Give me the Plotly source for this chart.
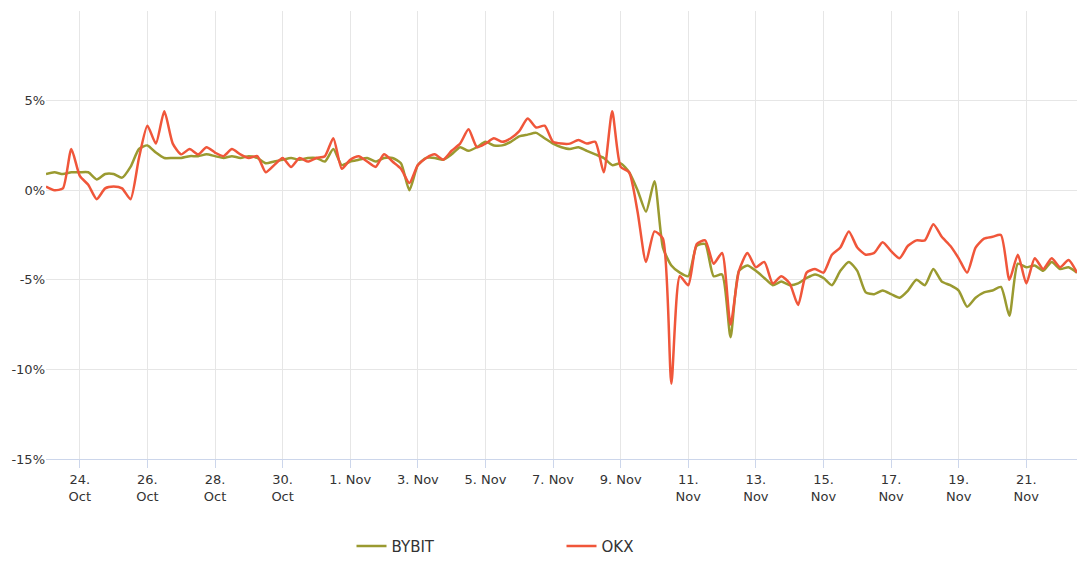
import datetime as dt
import plotly.graph_objects as go

start = dt.datetime(2023, 10, 23)
step_hours = 6

bybit = [
    0.9, 1.0, 0.9, 1.0,
    1.0, 1.0, 0.6, 0.9,
    0.9, 0.7, 1.3, 2.3,
    2.5, 2.1, 1.8, 1.8,
    1.8, 1.9, 1.9, 2.0,
    1.9, 1.8, 1.9, 1.8,
    1.9, 1.8, 1.5, 1.6,
    1.7, 1.8, 1.7, 1.8,
    1.8, 1.6, 2.3, 1.4,
    1.6, 1.7, 1.8, 1.6,
    1.8, 1.8, 1.5, 0.0,
    1.4, 1.8, 1.8, 1.7,
    2.0, 2.4, 2.2, 2.4,
    2.7, 2.5, 2.5, 2.7,
    3.0, 3.1, 3.2, 2.9,
    2.6, 2.4, 2.3, 2.4,
    2.2, 2.0, 1.8, 1.4,
    1.5, 1.0, 0.0, -1.2,
    0.5, -3.2, -4.2, -4.6,
    -4.8, -3.1, -3.0, -4.8,
    -4.7, -8.2, -4.5, -4.2,
    -4.5, -4.9, -5.3, -5.1,
    -5.3, -5.2, -4.9, -4.7,
    -4.9, -5.3, -4.5, -4.0,
    -4.5, -5.7, -5.8, -5.6,
    -5.8, -6.0, -5.6, -5.0,
    -5.3, -4.4, -5.1, -5.3,
    -5.6, -6.5, -6.0, -5.7,
    -5.6, -5.4, -7.0, -4.1,
    -4.3, -4.2, -4.5, -4.0,
    -4.4, -4.3, -4.6,
]

okx = [
    0.2, 0.0, 0.1, 2.3,
    0.8, 0.3, -0.5, 0.1,
    0.2, 0.1, -0.5, 1.8,
    3.6, 2.6, 4.4, 2.6,
    2.0, 2.3, 2.0, 2.4,
    2.1, 1.9, 2.3, 2.0,
    1.8, 1.9, 1.0, 1.4,
    1.8, 1.3, 1.8, 1.6,
    1.8, 1.9, 2.9, 1.2,
    1.7, 1.9, 1.6, 1.3,
    2.0, 1.6, 1.2, 0.4,
    1.4, 1.8, 2.0, 1.7,
    2.2, 2.6, 3.4, 2.4,
    2.6, 2.9, 2.7, 2.9,
    3.3, 4.0, 3.5, 3.6,
    2.7, 2.6, 2.6, 2.8,
    2.6, 2.7, 1.0, 4.4,
    1.3, 1.0, -1.2, -4.0,
    -2.3, -2.7, -10.8, -4.8,
    -5.3, -3.0, -2.8, -4.1,
    -3.5, -7.5, -4.5, -3.5,
    -4.3, -4.0, -5.2, -4.8,
    -5.2, -6.4, -4.6, -4.4,
    -4.6, -3.6, -3.2, -2.3,
    -3.2, -3.6, -3.5, -2.9,
    -3.4, -3.8, -3.1, -2.8,
    -2.8, -1.9, -2.6, -3.1,
    -3.8, -4.6, -3.2, -2.7,
    -2.6, -2.5, -5.0, -3.6,
    -5.2, -3.8, -4.4, -3.8,
    -4.3, -3.9, -4.6,
]

tick_dates = [dt.datetime(2023, 10, 24) + dt.timedelta(days=2 * i) for i in range(15)]
tick_labels = ["24.<br>Oct", "26.<br>Oct", "28.<br>Oct", "30.<br>Oct", "1. Nov", "3. Nov",
               "5. Nov", "7. Nov", "9. Nov", "11.<br>Nov", "13.<br>Nov", "15.<br>Nov",
               "17.<br>Nov", "19.<br>Nov", "21.<br>Nov"]
y_ticks = [-15, -10, -5, 0, 5]
y_labels = ["-15%", "-10%", "-5%", "0%", "5%"]

times_b = [start + dt.timedelta(hours=step_hours * i) for i in range(len(bybit))]
times_o = [start + dt.timedelta(hours=step_hours * i) for i in range(len(okx))]

fig = go.Figure()
fig.add_trace(go.Scatter(x=times_b, y=bybit, name="BYBIT", mode="lines",
                         line=dict(color="#9a9a30", width=2.5, shape="spline", smoothing=0.6)))
fig.add_trace(go.Scatter(x=times_o, y=okx, name="OKX", mode="lines",
                         line=dict(color="#f0563a", width=2.5, shape="spline", smoothing=0.6)))

fig.update_layout(
    width=1089, height=566,
    margin=dict(l=38, r=20, t=3, b=115),
    plot_bgcolor="white", paper_bgcolor="white",
    font=dict(family="DejaVu Sans", size=13, color="#333333"),
    showlegend=True,
    legend=dict(orientation="h", x=0.5, xanchor="center", y=-0.195, yanchor="middle",
                entrywidth=165, font=dict(size=15, color="#333333")),
    xaxis=dict(range=[start, start + dt.timedelta(hours=732)],
               tickvals=tick_dates, ticktext=tick_labels, showgrid=True,
               gridcolor="#e6e6e6", zeroline=False, showline=True, linecolor="#ccd6eb",
               ticks="outside", ticklen=8, tickcolor="#ccd6eb"),
    yaxis=dict(range=[-15, 10], tickvals=y_ticks, ticktext=y_labels, showgrid=True,
               gridcolor="#e6e6e6", zeroline=False, ticks=""),
)

fig.write_html("out.html")
